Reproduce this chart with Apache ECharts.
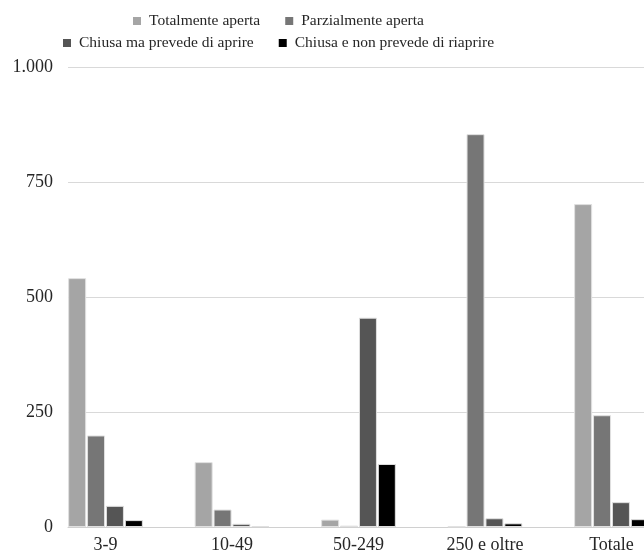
<!DOCTYPE html>
<html>
<head>
<meta charset="utf-8">
<script src="https://cdn.jsdelivr.net/npm/echarts@6/dist/echarts.min.js"></script>
<style>html,body{margin:0;padding:0;background:#fff}#c{width:644px;height:555px}</style>
</head>
<body>
<div id="c"></div>
<script>
const categories = ['3-9', '10-49', '50-249', '250 e oltre', 'Totale'];
const seriesNames = ['Totalmente aperta', 'Parzialmente aperta', 'Chiusa ma prevede di aprire', 'Chiusa e non prevede di riaprire'];
const totalmenteAperta = [541, 141, 16, 1, 702];
const parzialmenteAperta = [199, 38, 3, 854, 243];
const chiusaPrevedeAprire = [46, 7, 455, 19, 54];
const chiusaNonRiaprire = [15, 2, 137, 8, 17];
const yTicks = [0, 250, 500, 750, 1000];
const colors = ['#a5a5a5', '#767676', '#555555', '#000000'];

const seriesValues = [totalmenteAperta, parzialmenteAperta, chiusaPrevedeAprire, chiusaNonRiaprire];
const font = 'Liberation Serif';

const legendBase = {
  icon: 'rect', itemWidth: 8, itemHeight: 8, itemGap: 25, padding: 0,
  itemStyle: { borderWidth: 0 },
  textStyle: { fontFamily: font, fontSize: 15.5, color: '#262626', padding: [0, 0, 0, 3] }
};

const chart = echarts.init(document.getElementById('c'));
chart.setOption({
  animation: false,
  textStyle: { fontFamily: font },
  legend: [
    Object.assign({ data: seriesNames.slice(0, 2), left: 133, top: 13 }, legendBase),
    Object.assign({ data: seriesNames.slice(2, 4), left: 63, top: 35 }, legendBase)
  ],
  grid: { left: 68, right: 0, top: 67, bottom: 28, containLabel: false, outerBoundsMode: 'none' },
  xAxis: {
    type: 'value',
    min: -0.2964,
    max: 4.257,
    splitLine: { show: false },
    axisTick: { show: false },
    axisLine: { show: true, lineStyle: { color: '#d0d0d0', width: 1 } },
    axisLabel: {
      customValues: categories.map((c, i) => i),
      formatter: v => categories[Math.round(v)] || '',
      fontFamily: font, fontSize: 18, color: '#262626', margin: 9,
      showMinLabel: true, showMaxLabel: true
    }
  },
  yAxis: {
    type: 'value',
    min: yTicks[0],
    max: yTicks[yTicks.length - 1],
    interval: yTicks[1] - yTicks[0],
    axisLine: { show: false },
    axisTick: { show: false },
    splitLine: { lineStyle: { color: '#d9d9d9', width: 1 } },
    axisLabel: {
      fontFamily: font, fontSize: 18, color: '#262626', margin: 15,
      formatter: v => String(v).replace(/\B(?=(\d{3})+(?!\d))/g, '.')
    }
  },
  series: seriesNames.map((name, k) => ({
    name,
    type: 'bar',
    barWidth: 18,
    barGap: '5%',
    itemStyle: { color: colors[k], borderColor: '#e0e0e0', borderWidth: 1 },
    data: seriesValues[k].map((v, i) => [i, v])
  }))
});
</script>
</body>
</html>
